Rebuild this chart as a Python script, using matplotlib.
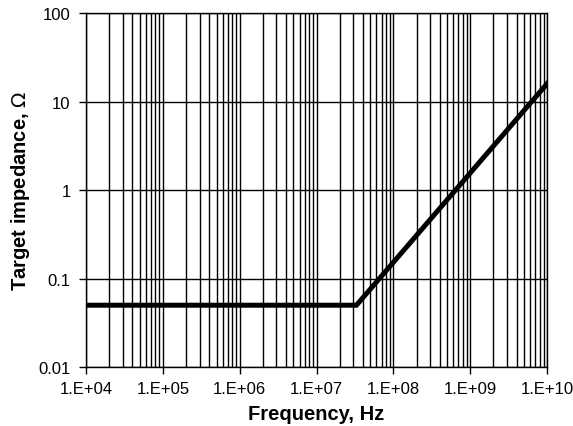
import numpy as np
import matplotlib
matplotlib.use("Agg")
import matplotlib.pyplot as plt
from matplotlib.ticker import LogLocator, FixedLocator, NullFormatter

plt.rcParams['font.family'] = ['Liberation Sans', 'DejaVu Sans']

# target impedance profile
freq = [1e4, 3.3e7, 1e10]
z_target = [0.05, 0.05, 16.0]

x_ticks = [1e4, 1e5, 1e6, 1e7, 1e8, 1e9, 1e10]
x_labels = ["1.E+04", "1.E+05", "1.E+06", "1.E+07", "1.E+08", "1.E+09", "1.E+10"]
y_ticks = [0.01, 0.1, 1, 10, 100]
y_labels = ["0.01", "0.1", "1", "10", "100"]

fig = plt.figure(figsize=(5.73, 4.27), dpi=100)
ax = fig.add_axes([0.150, 0.138, 0.805, 0.829])

ax.plot(freq, z_target, color="black", lw=3.6, solid_joinstyle="miter", zorder=3)

ax.set_xscale("log")
ax.set_yscale("log")
ax.set_xlim(1e4, 1e10)
ax.set_ylim(0.01, 100)

ax.xaxis.set_major_locator(FixedLocator(x_ticks))
ax.set_xticklabels(x_labels)
ax.xaxis.set_minor_locator(LogLocator(base=10, subs=np.arange(2, 10)))
ax.xaxis.set_minor_formatter(NullFormatter())
ax.yaxis.set_major_locator(FixedLocator(y_ticks))
ax.set_yticklabels(y_labels)
ax.yaxis.set_minor_locator(FixedLocator([]))

ax.grid(True, which="major", axis="both", color="black", lw=1.0)
ax.grid(True, which="minor", axis="x", color="black", lw=1.0)

ax.tick_params(which="major", direction="out", length=5, width=1, labelsize=12)
ax.tick_params(axis="x", pad=5)
ax.tick_params(axis="y", pad=6)
ax.tick_params(which="minor", length=0)
for s in ax.spines.values():
    s.set_linewidth(1.0)

ax.set_xlabel("Frequency, Hz", fontsize=14.5, fontweight="bold")
ax.set_ylabel("Target impedance, $\\Omega$", fontsize=14.5, fontweight="bold")
ax.xaxis.set_label_coords(0.5, -0.105)
ax.yaxis.set_label_coords(-0.117, 0.5)

fig.savefig("out.png", dpi=100)
